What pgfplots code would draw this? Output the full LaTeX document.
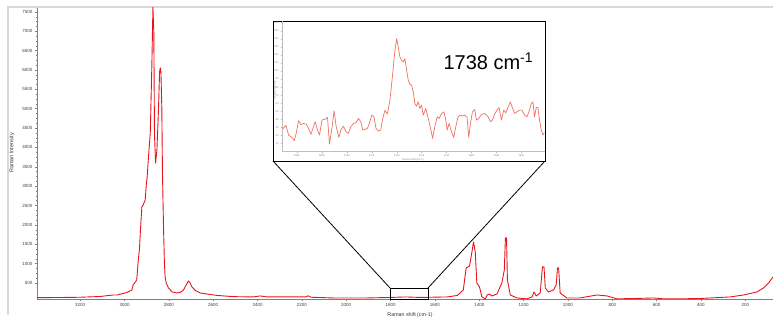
\documentclass[border=0pt]{standalone}
\usepackage{fontspec}
\setmainfont{Liberation Sans}
\usepackage{pgfplots}
\pgfplotsset{compat=1.18}
\definecolor{specred}{HTML}{E8141C}
\definecolor{insred}{HTML}{F2705F}
\begin{document}
\begin{tikzpicture}[x=1pt,y=1pt]
\path[use as bounding box] (0,0) rectangle (773,320);
\draw[black!15, line width=1.3pt] (8,5) -- (8,313) -- (775,313);
\begin{axis}[name=main, at={(37pt,21pt)}, anchor=south west, scale only axis,
  width=736pt, height=291pt, x dir=reverse,
  xmin=75, xmax=3395, ymin=86, ymax=7600,
  axis x line*=bottom, axis y line*=left,
  axis line style={black!50, line width=0.5pt},
  xtick={200,400,...,3200}, ytick={500,1000,...,7500},
  minor x tick num=1, minor y tick num=3,
  tick align=outside, major tick length=2pt, minor tick length=1pt,
  tick style={black!50, line width=0.4pt},
  tick label style={font=\fontsize{4.5}{5}\selectfont, text=black!75},
  xticklabel style={yshift=1pt}, yticklabel style={xshift=1pt},
  /pgf/number format/.cd, 1000 sep={}, assume math mode=true]
\addplot[specred, line width=0.9pt, line join=round] coordinates {
(3394,120) (3290,125) (3200,131) (3110,151) (3051,190) (3033,190) (2997,242)
(2984,268) (2967,320) (2961,449) (2945,578) (2938,1094) (2933,1353) (2929,1792)
(2922,2463) (2916,2515) (2907,2644) (2902,3032) (2898,3238) (2892,3755) (2884,4375)
(2877,6080) (2872,7629) (2868,6958) (2865,4323) (2860,3600) (2854,3936) (2847,4969)
(2842,5950) (2839,6054) (2836,5950) (2832,5046) (2829,3342) (2824,1869) (2820,966)
(2817,655) (2812,500) (2802,371) (2785,268) (2764,242) (2749,255) (2734,320)
(2722,449) (2712,552) (2704,500) (2696,397) (2681,307) (2659,242) (2623,209)
(2582,178) (2510,147) (2420,139) (2388,165) (2357,139) (2208,139) (2181,139)
(2172,170) (2158,131) (2059,113) (1905,113) (1802,126) (1734,139) (1666,126)
(1545,139) (1499,177) (1472,320) (1459,888) (1444,940) (1433,1301) (1426,1559)
(1418,1301) (1411,500) (1399,397) (1388,139) (1373,90) (1364,190) (1354,216)
(1343,165) (1320,216) (1298,500) (1287,836) (1282,1663) (1277,1663) (1273,578)
(1260,190) (1230,113) (1185,90) (1162,139) (1153,268) (1143,165) (1125,242)
(1115,914) (1108,914) (1102,371) (1088,268) (1065,320) (1053,449) (1047,888)
(1042,888) (1035,242) (1005,113) (945,113) (869,190) (824,165) (779,90)
(689,100) (614,113) (569,90) (418,95) (268,139) (208,190) (147,268)
(118,371) (95,500) (75,655)
};
\end{axis}
\node[font=\fontsize{5.5}{6}\selectfont, text=black!80, rotate=90] at (12,167) {Raman Intensity};
\node[font=\fontsize{5.3}{6}\selectfont, text=black!80] at (410,5) {Raman shift (cm-1)};
% zoom box and connectors
\draw[black, line width=0.8pt] (390,32) rectangle (428,21);
\draw[black, line width=0.8pt] (273,159) -- (390,32);
\draw[black, line width=0.8pt] (545,159) -- (428,32);
\filldraw[fill=white, draw=black, line width=0.9pt] (273,159) rectangle (545,299);
\begin{axis}[at={(282pt,168.3pt)}, anchor=south west, scale only axis,
  width=263pt, height=130.7pt, x dir=reverse,
  xmin=1621, xmax=1832, ymin=0, ymax=162,
  axis x line*=bottom, axis y line*=left,
  axis line style={black!25, line width=0.4pt},
  xtick={1640,1660,...,1820}, ytick={10,20,...,160},
  tick align=outside, major tick length=1pt,
  tick style={black!30, line width=0.3pt},
  tick label style={font=\fontsize{2.5}{3}\selectfont, text=black!50},
  xticklabel style={yshift=1pt}, yticklabel style={xshift=1pt},
  /pgf/number format/.cd, 1000 sep={}, assume math mode=true]
\addplot[insred, line width=0.7pt, line join=round] coordinates {
(1832.0,27.6) (1828.8,32.6) (1826.7,20.6) (1824.0,17.7) (1822.2,13.6) (1820.6,22.7)
(1818.7,38.3) (1816.8,33.4) (1814.7,35.0) (1812.6,34.2) (1810.7,28.9) (1808.8,21.5)
(1807.2,28.9) (1805.4,37.1) (1803.5,26.8) (1801.9,20.6) (1800.0,39.2) (1798.2,40.0)
(1796.6,40.8) (1795.5,42.4) (1793.9,9.5) (1791.8,30.9) (1790.2,50.7) (1788.6,31.7)
(1786.4,17.7) (1784.8,26.8) (1782.7,31.7) (1780.6,24.7) (1778.7,22.7) (1776.8,30.9)
(1774.7,35.0) (1772.6,35.9) (1770.7,41.2) (1768.8,37.1) (1767.2,26.8) (1765.4,27.6)
(1763.5,28.9) (1761.9,35.0) (1760.0,45.3) (1758.2,43.3) (1756.6,28.9) (1754.7,25.6)
(1752.8,26.8) (1751.2,41.2) (1749.4,51.5) (1747.5,46.6) (1745.4,63.8) (1743.2,96.8)
(1741.4,125.6) (1740.0,140.0) (1738.7,129.7) (1737.4,117.3) (1736.0,113.2) (1734.7,111.2)
(1733.4,115.3) (1732.0,100.9) (1730.7,88.5) (1729.4,83.6) (1728.0,82.4) (1726.7,74.1)
(1725.4,59.7) (1724.0,56.4) (1722.7,61.8) (1721.4,53.5) (1720.0,57.7) (1718.7,45.3)
(1716.6,53.5) (1714.7,41.2) (1712.8,28.9) (1711.2,16.5) (1709.4,30.9) (1707.5,43.3)
(1705.9,41.2) (1704.0,47.4) (1702.1,49.4) (1700.6,39.2) (1699.5,26.8) (1697.9,35.0)
(1696.0,24.7) (1694.2,17.7) (1692.6,30.9) (1690.7,43.3) (1688.8,45.3) (1687.2,44.1)
(1685.4,45.3) (1683.5,42.4) (1682.2,17.7) (1680.8,35.0) (1679.2,49.4) (1677.4,52.3)
(1676.0,39.2) (1674.2,41.2) (1672.0,46.1) (1669.4,47.4) (1666.7,43.3) (1664.8,37.1)
(1663.2,39.2) (1661.4,46.6) (1659.5,51.5) (1657.9,54.8) (1656.0,39.2) (1654.1,51.5)
(1652.5,48.2) (1650.7,54.8) (1648.8,61.8) (1647.2,54.8) (1645.3,47.4) (1643.5,49.4)
(1641.4,51.5) (1639.5,51.5) (1637.3,45.3) (1635.5,43.3) (1633.9,49.4) (1632.0,59.7)
(1630.7,61.8) (1629.4,43.3) (1628.0,54.8) (1626.7,54.8) (1625.4,39.2) (1624.0,26.8)
(1622.7,20.6) (1621.6,23.5)
};
\end{axis}
\node[font=\fontsize{2.5}{3}\selectfont, text=black!50] at (413,160) {Raman shift (cm-1)};
\node[font=\fontsize{2.5}{3}\selectfont, text=black!50, rotate=90] at (275,230) {Raman Intensity};
\node[font=\fontsize{20}{22}\selectfont, anchor=base west] at (440,250) {1738 cm\textsuperscript{-1}};
\end{tikzpicture}
\end{document}
